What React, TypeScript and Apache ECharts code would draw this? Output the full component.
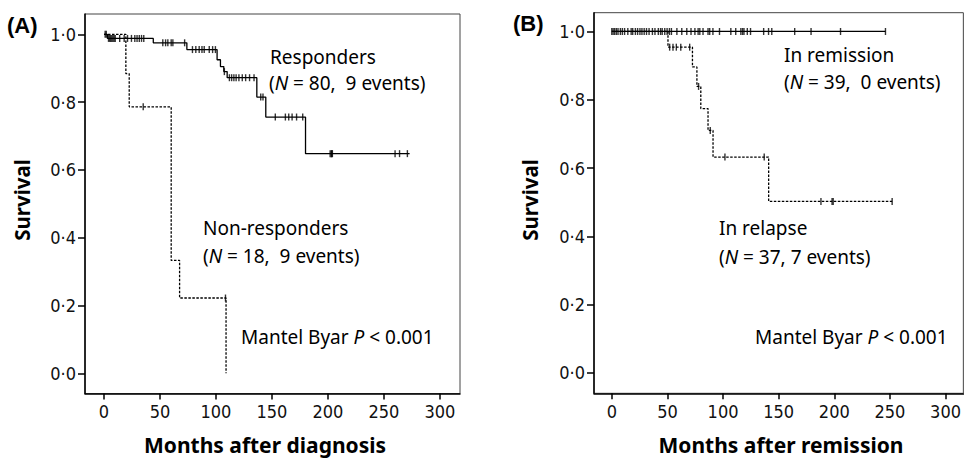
import React, { useEffect, useRef } from 'react';
import * as echarts from 'echarts';

// Tick labels
const xTicks = [0, 50, 100, 150, 200, 250, 300];
const yTicks = [0, 0.2, 0.4, 0.6, 0.8, 1.0];

// Panel A – Responders (solid)
const respTimes = [0, 3, 44, 74, 101, 104, 107, 110, 136.5, 144.5, 180, 273];
const respSurv = [1.0, 0.988, 0.975, 0.955, 0.925, 0.905, 0.89, 0.872, 0.815, 0.756, 0.648, 0.648];
const respCensor = [1, 2, 4, 5, 6, 7, 8, 9, 10, 14, 18, 21, 24.5, 27.5, 29.5, 31.5, 33.5, 35.5, 52.5, 55, 57, 60, 61.5, 72, 79, 82, 85, 87.5, 89.5, 94, 97, 99.5, 107.5, 112, 114, 116, 118, 120.5, 123.5, 126.5, 130, 134, 140, 142, 153, 162, 165, 168, 172, 177.5, 202, 203, 203.5, 204, 260, 264, 271];

// Panel A – Non-responders (dashed)
const nonTimes = [0, 19.5, 22.5, 60, 67.5, 109];
const nonSurv = [1.0, 0.884, 0.786, 0.333, 0.222, 0.0];
const nonCensor = [35, 108.5];

// Panel B – In remission (solid)
const remTimes = [0, 246];
const remSurv = [1.0, 1.0];
const remCensor = [0, 1.2, 2.6, 4.1, 5.6, 7.7, 9.5, 11.5, 14.4, 17.4, 18.8, 21.2, 23.2, 25.3, 27.1, 29.1, 31.2, 33.5, 36.5, 38.8, 41.8, 43.8, 45.3, 47.6, 49.7, 51.8, 53.6, 58.5, 62.9, 67.4, 71.2, 74.7, 77.6, 79.1, 82, 86.5, 88, 90.9, 96.8, 107, 111.4, 116, 117.5, 118.8, 121.8, 124.7, 136.5, 140.9, 143.8, 164.4, 179.1, 205.6, 246];

// Panel B – In relapse (dashed)
const relTimes = [0, 50.5, 72.5, 76.5, 80, 86.5, 91, 141, 252];
const relSurv = [1.0, 0.954, 0.896, 0.839, 0.774, 0.71, 0.632, 0.502, 0.502];
const relCensor = [52, 55, 58, 62, 70, 78, 88.5, 101.7, 137, 188, 198, 199, 252];

function stepValue(times: number[], surv: number[], t: number) {
  let v = surv[0];
  for (let i = 0; i < times.length; i++) if (times[i] <= t) v = surv[i];
  return v;
}

const pairs = (times: number[], surv: number[]) => times.map((t, i) => [t, surv[i]]);
const censorPts = (c: number[], times: number[], surv: number[]) => c.map((t) => [t, stepValue(times, surv, t)]);

const tickFont = "'DejaVu Sans Condensed', 'Liberation Sans Narrow', 'Noto Sans', sans-serif";
const textFont = "'Noto Sans', sans-serif";
const CENSOR = 'path://M0,0L1,0L1,10L0,10Z';

function xAxisCfg(grid: number, min: number, max: number) {
  return {
    type: 'value', gridIndex: grid, min, max,
    axisLine: { onZero: false, lineStyle: { color: '#000', width: 1.5 } },
    axisTick: { customValues: xTicks, length: 6, lineStyle: { color: '#000', width: 1.5 } },
    axisLabel: { customValues: xTicks, color: '#111', fontSize: 18, fontFamily: tickFont, margin: 9 },
    splitLine: { show: false },
  };
}
function yAxisCfg(grid: number, min: number, max: number) {
  return {
    type: 'value', gridIndex: grid, min, max,
    axisLine: { onZero: false, lineStyle: { color: '#000', width: 1.5 } },
    axisTick: { customValues: yTicks, length: 7, lineStyle: { color: '#000', width: 1.5 } },
    axisLabel: {
      customValues: yTicks, color: '#111', fontSize: 18, fontFamily: tickFont, margin: 9,
      formatter: (v: number) => v.toFixed(1).replace('.', '·'),
    },
    splitLine: { show: false },
  };
}

function stepSeries(x: number, data: number[][], dashed: boolean) {
  return {
    type: 'line', xAxisIndex: x, yAxisIndex: x, data, step: 'end', showSymbol: false, symbol: 'none',
    lineStyle: { color: '#000', width: 1.3, type: dashed ? [2.5, 1.5] : 'solid' },
    z: 2,
  };
}
function censorSeries(x: number, data: number[][]) {
  return {
    type: 'scatter', xAxisIndex: x, yAxisIndex: x, data, symbol: CENSOR, symbolSize: [1.4, 7],
    itemStyle: { color: '#000' }, z: 3,
  };
}

const rich = {
  i: { fontStyle: 'italic', fontSize: 19, fontFamily: textFont, fill: '#000' },
};
function txt(x: number, y: number, text: string, extra: any = {}) {
  return {
    type: 'text', x, y,
    style: { text, fontSize: 19, fontFamily: textFont, fill: '#000', verticalAlign: 'middle', rich, ...extra },
  };
}
const boldTitle = (x: number, y: number, text: string, size: number, rot = 0) => ({
  type: 'text', x, y, rotation: rot,
  style: { text, fontSize: size, fontWeight: 'bold', fontFamily: textFont, fill: '#000', align: 'center', verticalAlign: 'middle' },
});

export default function App() {
  const ref = useRef<HTMLDivElement>(null);
  useEffect(() => {
    const chart = echarts.init(ref.current!, null, { renderer: 'svg' });
    chart.setOption({
      animation: false,
      grid: [
        { left: 85, top: 14, width: 375, height: 379.6, show: true, borderColor: '#444', borderWidth: 1 },
        { left: 594, top: 12.7, width: 376, height: 380.6, show: true, borderColor: '#444', borderWidth: 1 },
      ],
      xAxis: [xAxisCfg(0, -17, 318), xAxisCfg(1, -16, 316)],
      yAxis: [yAxisCfg(0, -0.06, 1.06), yAxisCfg(1, -0.06, 1.055)],
      series: [
        stepSeries(0, pairs(respTimes, respSurv), false),
        stepSeries(0, pairs(nonTimes, nonSurv), true),
        censorSeries(0, censorPts(respCensor, respTimes, respSurv)),
        censorSeries(0, censorPts(nonCensor, nonTimes, nonSurv)),
        stepSeries(1, pairs(remTimes, remSurv), false),
        stepSeries(1, pairs(relTimes, relSurv), true),
        censorSeries(1, censorPts(remCensor, remTimes, remSurv)),
        censorSeries(1, censorPts(relCensor, relTimes, relSurv)),
      ],
      graphic: [
        { type: 'text', x: 7, y: 25, style: { text: '(A)', fontSize: 22, fontWeight: 'bold', fontFamily: "'Liberation Sans', sans-serif", fill: '#000', verticalAlign: 'middle' } },
        { type: 'text', x: 513, y: 23, style: { text: '(B)', fontSize: 22, fontWeight: 'bold', fontFamily: "'Liberation Sans', sans-serif", fill: '#000', verticalAlign: 'middle' } },
        boldTitle(22, 200, 'Survival', 20.5, Math.PI / 2),
        boldTitle(530, 200, 'Survival', 20.5, Math.PI / 2),
        boldTitle(265, 445, 'Months after diagnosis', 21),
        boldTitle(781, 445, 'Months after remission', 21),
        txt(270, 57, 'Responders'),
        txt(269, 83, '({i|N} = 80,  9 events)'),
        txt(203, 228, 'Non-responders'),
        txt(203, 256, '({i|N} = 18,  9 events)'),
        txt(241, 337, 'Mantel Byar {i|P} < 0.001'),
        txt(784, 55, 'In remission'),
        txt(784, 82, '({i|N} = 39,  0 events)'),
        txt(719, 228, 'In relapse'),
        txt(719, 257, '({i|N} = 37, 7 events)'),
        txt(755, 337, 'Mantel Byar {i|P} < 0.001'),
      ],
    });
    return () => chart.dispose();
  }, []);
  return <div ref={ref} style={{ position: 'absolute', left: 0, top: 0, width: 964, height: 459 }} />;
}
